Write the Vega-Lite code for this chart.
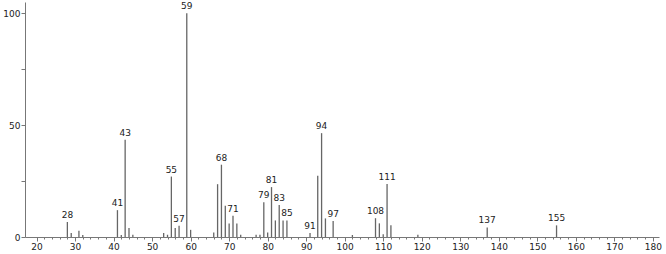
{
  "$schema": "https://vega.github.io/schema/vega-lite/v6.json",
  "width": 634,
  "height": 235,
  "autosize": {"type": "none"},
  "padding": {"left": 25, "top": 2, "right": 7, "bottom": 17},
  "background": "white",
  "config": {
    "view": {"stroke": null},
    "axis": {"labelFont": "DejaVu Sans", "labelFontSize": 9, "labelColor": "#222", "domainColor": "#777", "tickColor": "#777", "grid": false, "title": null}
  },
  "data": {"values": [
    {"mz": 28, "intensity": 6.7, "labeled": true},
    {"mz": 29, "intensity": 1.8, "labeled": false},
    {"mz": 31, "intensity": 2.8, "labeled": false},
    {"mz": 32, "intensity": 0.9, "labeled": false},
    {"mz": 41, "intensity": 12, "labeled": true},
    {"mz": 42, "intensity": 0.9, "labeled": false},
    {"mz": 43, "intensity": 43.5, "labeled": true},
    {"mz": 44, "intensity": 4, "labeled": false},
    {"mz": 45, "intensity": 1, "labeled": false},
    {"mz": 53, "intensity": 1.8, "labeled": false},
    {"mz": 54, "intensity": 1, "labeled": false},
    {"mz": 55, "intensity": 27, "labeled": true},
    {"mz": 56, "intensity": 4, "labeled": false},
    {"mz": 57, "intensity": 5, "labeled": true},
    {"mz": 59, "intensity": 100, "labeled": true},
    {"mz": 60, "intensity": 3.2, "labeled": false},
    {"mz": 66, "intensity": 2, "labeled": false},
    {"mz": 67, "intensity": 23.6, "labeled": false},
    {"mz": 68, "intensity": 32.3, "labeled": true},
    {"mz": 69, "intensity": 14, "labeled": false},
    {"mz": 70, "intensity": 6, "labeled": false},
    {"mz": 71, "intensity": 9.5, "labeled": true},
    {"mz": 72, "intensity": 6, "labeled": false},
    {"mz": 73, "intensity": 1, "labeled": false},
    {"mz": 77, "intensity": 1, "labeled": false},
    {"mz": 78, "intensity": 1, "labeled": false},
    {"mz": 79, "intensity": 15.5, "labeled": true},
    {"mz": 80, "intensity": 2, "labeled": false},
    {"mz": 81, "intensity": 22.3, "labeled": true},
    {"mz": 82, "intensity": 7.4, "labeled": false},
    {"mz": 83, "intensity": 14.3, "labeled": true},
    {"mz": 84, "intensity": 7.4, "labeled": false},
    {"mz": 85, "intensity": 7.4, "labeled": true},
    {"mz": 91, "intensity": 1.8, "labeled": true},
    {"mz": 93, "intensity": 27.4, "labeled": false},
    {"mz": 94, "intensity": 46.4, "labeled": true},
    {"mz": 95, "intensity": 8.3, "labeled": false},
    {"mz": 97, "intensity": 7.1, "labeled": true},
    {"mz": 102, "intensity": 0.9, "labeled": false},
    {"mz": 108, "intensity": 8.4, "labeled": true},
    {"mz": 109, "intensity": 6.1, "labeled": false},
    {"mz": 110, "intensity": 1.2, "labeled": false},
    {"mz": 111, "intensity": 23.7, "labeled": true},
    {"mz": 112, "intensity": 5.2, "labeled": false},
    {"mz": 119, "intensity": 1, "labeled": false},
    {"mz": 137, "intensity": 4.3, "labeled": true},
    {"mz": 155, "intensity": 5.2, "labeled": true}
  ]},
  "resolve": {"axis": {"x": "independent"}},
  "layer": [
    {
      "mark": {"type": "rule", "color": "#666", "strokeWidth": 1.3},
      "encoding": {
        "x": {"field": "mz", "type": "quantitative", "scale": {"domain": [17, 181.6], "nice": false, "zero": false},
              "axis": {"orient": "bottom", "values": [20,22,24,26,28,30,32,34,36,38,40,42,44,46,48,50,52,54,56,58,60,62,64,66,68,70,72,74,76,78,80,82,84,86,88,90,92,94,96,98,100,102,104,106,108,110,112,114,116,118,120,122,124,126,128,130,132,134,136,138,140,142,144,146,148,150,152,154,156,158,160,162,164,166,168,170,172,174,176,178,180], "labels": false, "tickSize": 2, "domain": true}},
        "y": {"field": "intensity", "type": "quantitative", "scale": {"domain": [0, 105], "nice": false},
              "axis": {"values": [0, 25, 50, 75, 100], "tickSize": 4, "labelExpr": "datum.value % 50 == 0 ? datum.label : ''", "labelPadding": 1}},
        "y2": {"datum": 0}
      }
    },
    {
      "transform": [{"filter": "datum.labeled"}],
      "mark": {"type": "text", "font": "DejaVu Sans", "fontSize": 9, "color": "#222", "baseline": "bottom", "dy": -2},
      "encoding": {
        "x": {"field": "mz", "type": "quantitative", "scale": {"domain": [17, 181.6], "nice": false, "zero": false},
              "axis": {"orient": "bottom", "values": [20,30,40,50,60,70,80,90,100,110,120,130,140,150,160,170,180], "tickSize": 4, "labelPadding": 1, "domain": false}},
        "y": {"field": "intensity", "type": "quantitative"},
        "text": {"field": "mz", "type": "nominal"}
      }
    }
  ]
}
